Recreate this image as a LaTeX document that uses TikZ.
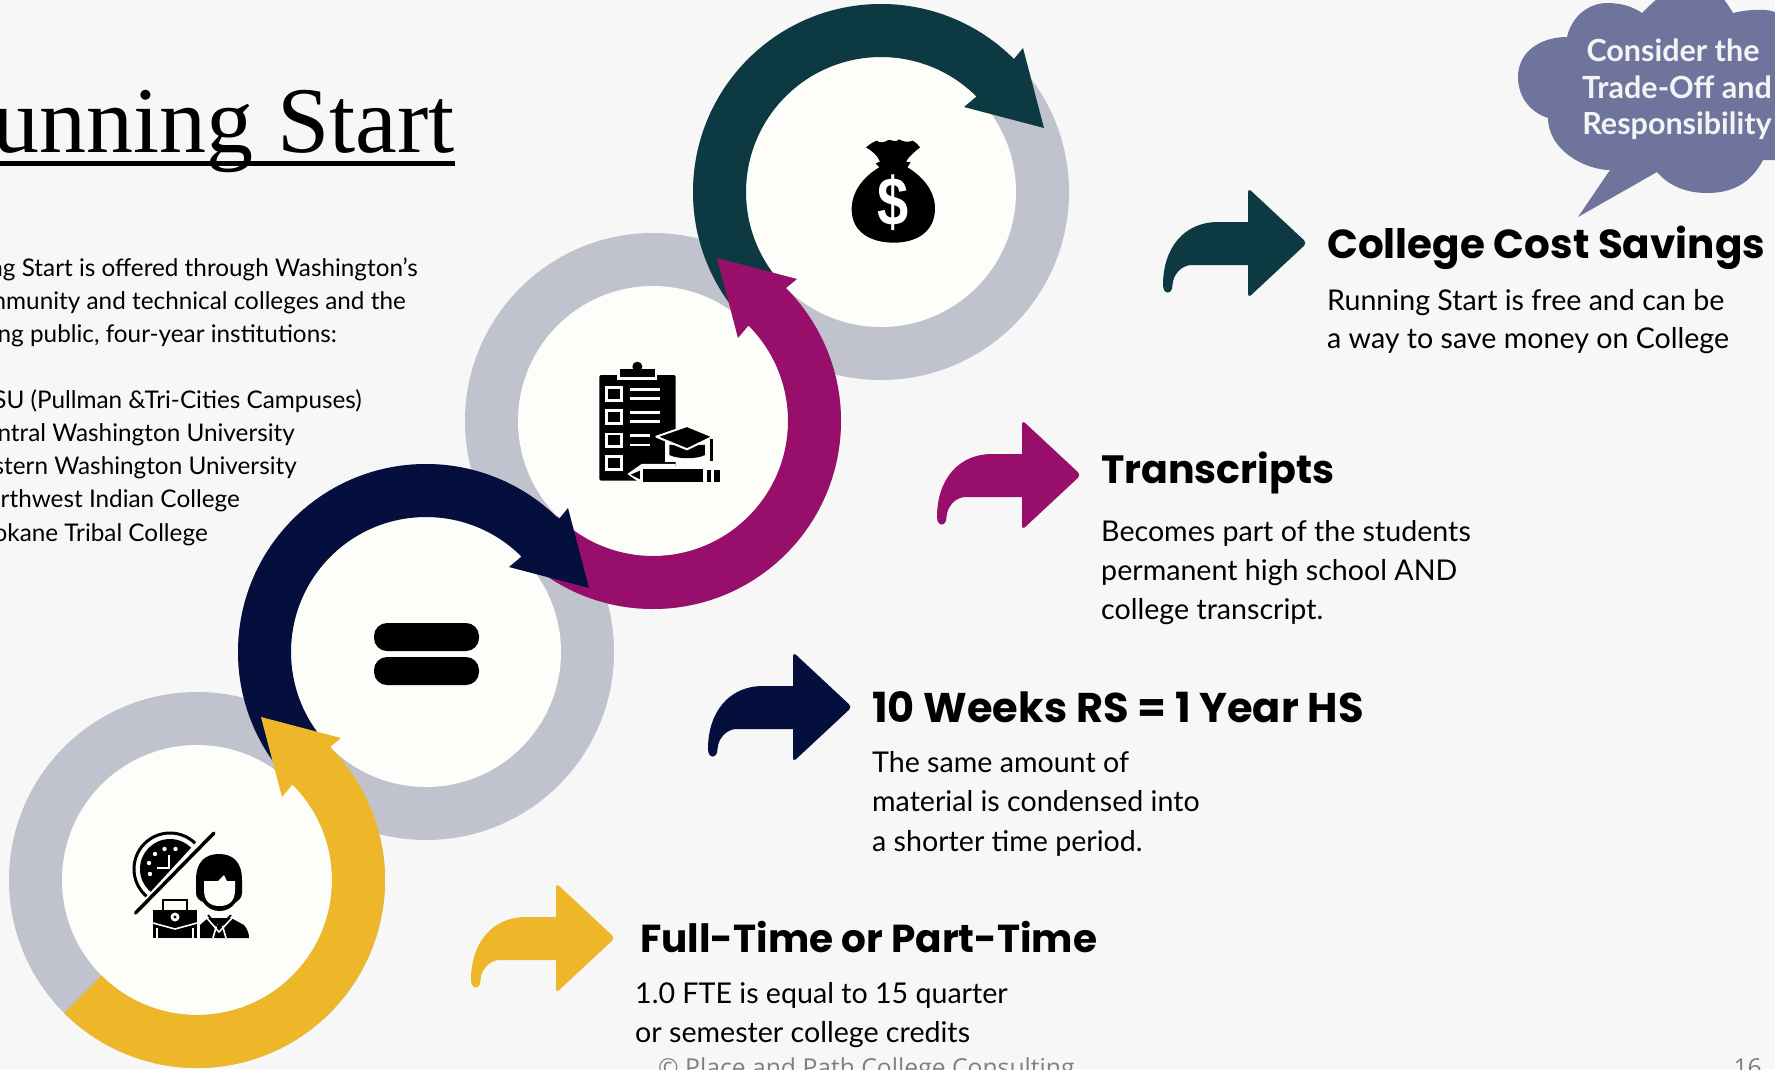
\documentclass[tikz,border=0pt]{standalone}
\usepackage{fontspec}
\newfontfamily\bodyfont{Lato}
\newfontfamily\headfont{Poppins}
\newfontfamily\footfont{Open Sans}
\newfontfamily\serifhead{Liberation Serif}
\newfontfamily\dollarfont{Liberation Sans}
\definecolor{bgc}{HTML}{F7F7F8}
\definecolor{ringc}{HTML}{C0C3CE}
\definecolor{innerc}{HTML}{FDFDF9}
\definecolor{tealc}{HTML}{0D3A42}
\definecolor{magc}{HTML}{970F6B}
\definecolor{navyc}{HTML}{050F3D}
\definecolor{yelc}{HTML}{EEB729}
\definecolor{cloudc}{HTML}{6F749D}
\definecolor{footc}{HTML}{808080}
\tikzset{
  ringbase/.style={circle,fill=ringc,minimum size=376pt,inner sep=0pt,outer sep=0pt},
  ringcore/.style={circle,fill=innerc,minimum size=270pt,inner sep=0pt,outer sep=0pt},
  heading/.style={anchor=base west,inner sep=0pt,font=\headfont\bfseries\fontsize{#1}{42}\selectfont,text=black},
  bodyline/.style={anchor=base west,inner sep=0pt,font=\bodyfont\fontsize{28.6}{30}\selectfont,text=black},
  sideline/.style={anchor=base east,inner sep=0pt,font=\bodyfont\fontsize{24.3}{30}\selectfont,text=black},
  cloudline/.style={anchor=base,inner sep=0pt,font=\bodyfont\bfseries\fontsize{30.5}{32}\selectfont,text=white!92!cloudc},
  pics/bentarrow/.style={code={
    \fill[#1] (-58,-21) [rounded corners=4pt] -- (-58,-55) -- (1,0) -- (-58,55) [sharp corners] -- (-58,22)
      -- (-114,22) .. controls (-125,22) and (-133,32) .. (-133.5,42)
      .. controls (-133.5,52) and (-143,52) .. (-143,42)
      .. controls (-143,5) and (-122,-21) .. (-88,-21) -- cycle;
  }},
}
% yellow/magenta: counter-clockwise sweep; navy/teal: clockwise sweep
\newcommand{\ccwarc}[2]{%
  \fill[#2] ($(#1)+(225:188pt)$) arc[start angle=225,end angle=405,radius=188pt]
    -- ($(#1)+(144,-142)$) -- ($(#1)+(64,-163)$) -- ($(#1)+(85,-83)$) -- ($(#1)+(45:135pt)$)
    arc[start angle=405,end angle=225,radius=135pt] -- cycle;}
\newcommand{\cwarc}[2]{%
  \fill[#2] ($(#1)+(225:188pt)$) arc[start angle=225,end angle=45,radius=188pt]
    -- ($(#1)+(142,-144)$) -- ($(#1)+(163,-64)$) -- ($(#1)+(83,-85)$) -- ($(#1)+(45:135pt)$)
    arc[start angle=45,end angle=225,radius=135pt] -- cycle;}
\usetikzlibrary{calc}
\begin{document}
\begin{tikzpicture}[x=1pt,y=-1pt]
\useasboundingbox (0,0) rectangle (1775,1069);
\fill[bgc] (0,0) rectangle (1775,1069);

% rings
\node[ringbase] (r4) at (881,192) {};
\node[ringbase] (r3) at (653,421) {};
\node[ringbase] (r2) at (426,652) {};
\node[ringbase] (r1) at (197,880) {};
\node[ringcore] (w4) at (881,192) {};
\node[ringcore] (w3) at (653,421) {};
\node[ringcore] (w2) at (426,652) {};
\node[ringcore] (w1) at (197,880) {};
\cwarc{r4}{tealc}
\ccwarc{r3}{magc}
\cwarc{r2}{navyc}
\ccwarc{r1}{yelc}

% equals icon
\fill[black,rounded corners=13pt] (374,623) rectangle (479,651);
\fill[black,rounded corners=13pt] (374,657) rectangle (479,685);

% money bag icon
\begin{scope}[shift={(820,120)},x=0.3333pt,y=-0.3333pt]
\fill[black] (138,82) .. controls (150,72) and (160,66) .. (170,62)
  .. controls (180,70) and (192,68) .. (205,60) .. controls (215,58) and (225,70) .. (238,58)
  .. controls (250,66) and (265,68) .. (278,62) .. controls (288,68) and (295,75) .. (300,82)
  .. controls (285,95) and (270,105) .. (258,125) -- (272,127) -- (262,142)
  .. controls (310,170) and (345,215) .. (345,265)
  .. controls (345,335) and (290,368) .. (222,368)
  .. controls (150,368) and (95,335) .. (95,268)
  .. controls (95,215) and (130,170) .. (178,142) -- (167,130) -- (180,125)
  .. controls (172,105) and (155,92) .. (138,82) -- cycle;
\end{scope}
\node[inner sep=0pt,text=white,font=\dollarfont\bfseries\fontsize{56}{56}\selectfont] (dollar) at (893,203) {\scalebox{1}[1.22]{\$}};

% clipboard icon
\begin{scope}[shift={(540,320)},x=0.3333pt,y=-0.3333pt]
\fill[black,rounded corners=2pt] (178,165) rectangle (407,482);
\fill[innerc] (232,160) rectangle (352,180);
\fill[black] (240,148) rectangle (345,172);
\fill[black] (292,140) circle[radius=5pt];
\foreach \yy in {203,272,342,410}
  \draw[innerc,line width=2.8pt] (199,\yy) rectangle (244,\yy+38);
\foreach \yy in {208,236,278,305}
  \draw[innerc,line width=2.6pt] (270,\yy) -- (360,\yy);
\foreach \yy in {347,375}
  \draw[innerc,line width=2.6pt] (270,\yy) -- (330,\yy);
% cap
\fill[innerc] (375,360) rectangle (505,425);
\fill[innerc] (407,425) rectangle (420,440);
\fill[black] (388,375) -- (495,375) -- (495,405) .. controls (470,418) and (415,418) .. (388,405) -- cycle;
\draw[innerc,fill=black,line join=round,line width=2pt] (349,350) -- (441,318) -- (519,350) -- (441,388) -- cycle;
\draw[black,line width=3pt] (515,358) -- (515,422);
% pencil
\fill[innerc] (262,462) -- (305,432) -- (407,432) -- (407,440) -- (545,440) -- (545,492) -- (305,492) -- cycle;
\fill[black] (310,447) rectangle (490,485);
\fill[black] (500,450) rectangle (512,485);
\fill[black] (522,450) rectangle (541,485);
\fill[black] (272,464) -- (300,452) -- (300,478) -- cycle;
\end{scope}

% time / work icon
\begin{scope}
\clip (120,825) -- (212,825) -- (132,912) -- (120,912) -- cycle;
\draw[black,line width=3pt] (170,869) circle[radius=36pt];
\fill[black] (170,869) circle[radius=30pt];
\end{scope}
\fill[innerc] (140,905) -- (206,838) -- (220,852) -- (154,920) -- cycle;
\draw[innerc,line width=2pt,line join=miter] (169,855) -- (169,868) -- (157,868);
\foreach \px/\py in {149/863,155/854,164.5/849,175.5/849,150/874}
  \fill[innerc] (\px,\py) circle[radius=2.2pt];
\draw[black,line width=3.5pt,line cap=round] (135.5,913) -- (214,833);
% person
\fill[black] (196,880) .. controls (196,862) and (205,854) .. (219,854)
  .. controls (233,854) and (242,862) .. (242,880) -- (242,893) .. controls (242,898) and (238,901) .. (236,902)
  .. controls (232,908) and (226,911) .. (219.5,911)
  .. controls (213,911) and (207,908) .. (203,902) .. controls (200,901) and (196,898) .. (196,893) -- cycle;
\fill[innerc] (204,881) -- (218,881) -- (224,875) -- (227,881) -- (235,881) -- (235,890)
  .. controls (235,902) and (228,906) .. (219.5,906)
  .. controls (211,906) and (204,902) .. (204,890) -- cycle;
\fill[black] (200,938) -- (200,925) -- (208,918) -- (231,918) -- (244,925) .. controls (248,930) and (249,934) .. (249,938) -- cycle;
\draw[innerc,line width=1.6pt] (206,917) -- (219,932) -- (233,917);
\draw[innerc,line width=1.6pt] (213,938) -- (217,924) (226,938) -- (222,924);
\draw[black,line width=1.8pt] (208,915) -- (219,928) -- (231,915);
% briefcase
\draw[black,line width=2pt] (163,910) -- (163,900) -- (187,900) -- (187,910);
\fill[black] (153,910) rectangle (197,938);
\draw[innerc,line width=1.6pt] (153,923) -- (175,929) -- (197,923);
\draw[innerc,line width=1.4pt] (157,928) -- (157,938) (193,928) -- (193,938);
\fill[innerc] (175,917) circle[radius=4.5pt];
\fill[black] (175,917) circle[radius=1.6pt];

% small bent arrows
\path (1306,243) pic (a4) {bentarrow=tealc};
\path (1080,475) pic (a3) {bentarrow=magc};
\path (851,707) pic (a2) {bentarrow=navyc};
\path (614,938) pic (a1) {bentarrow=yelc};

% cloud
\fill[cloudc] (1578,217) -- (1610,170)
  .. controls (1585,170) and (1548,150) .. (1548,118)
  .. controls (1530,112) and (1518,97) .. (1518,77)
  .. controls (1518,52) and (1540,37) .. (1567,37)
  .. controls (1572,15) and (1590,3) .. (1607,3)
  .. controls (1620,3) and (1632,6) .. (1642,13)
  .. controls (1650,5) and (1660,-5) .. (1665,-5)
  -- (1720,-5) .. controls (1725,0) and (1730,8) .. (1733,13)
  .. controls (1745,10) and (1765,8) .. (1775,12)
  -- (1775,160) -- (1763,160)
  .. controls (1750,185) and (1730,193) .. (1707,193)
  .. controls (1685,193) and (1668,185) .. (1657,172) -- cycle;
\node[cloudline] (c1) at (1673,61) {Consider the};
\node[cloudline] (c2) at (1677,98) {Trade-Off and};
\node[cloudline] (c3) at (1677,134) {Responsibility};

% title and left column
\node[anchor=base east,inner sep=0pt,font=\serifhead\fontsize{94}{100}\selectfont] (title) at (455,152) {unning Start};
\fill[black] (0,161) rectangle (455,166);
\node[sideline] (s1) at (418,276) {ng Start is offered through Washington’s};
\node[sideline] (s2) at (406,309) {nmunity and technical colleges and the};
\node[sideline] (s3) at (337,342) {ng public, four-year institutions:};
\node[sideline] (s4) at (362,408) {SU (Pullman \&Tri-Cities Campuses)};
\node[sideline] (s5) at (295,441) {ntral Washington University};
\node[sideline] (s6) at (297,474) {stern Washington University};
\node[sideline] (s7) at (240,507) {rthwest Indian College};
\node[sideline] (s8) at (208,541) {okane Tribal College};

% right column
\node[heading=40.5] (h4) at (1327,258) {College Cost Savings};
\node[bodyline] (b41) at (1327,310) {Running Start is free and can be};
\node[bodyline] (b42) at (1327,348) {a way to save money on College};
\node[heading=39.5] (h3) at (1101,483) {Transcripts};
\node[bodyline] (b31) at (1101,541) {Becomes part of the students};
\node[bodyline] (b32) at (1101,580) {permanent high school AND};
\node[bodyline] (b33) at (1101,619) {college transcript.};
\node[heading=41.5] (h2) at (872,722) {10 Weeks RS = 1 Year HS};
\node[bodyline] (b21) at (872,772) {The same amount of};
\node[bodyline] (b22) at (872,811) {material is condensed into};
\node[bodyline] (b23) at (872,851) {a shorter time period.};
\node[heading=39] (h1) at (640,952) {Full-Time or Part-Time};
\node[bodyline] (b11) at (635,1003) {1.0 FTE is equal to 15 quarter};
\node[bodyline] (b12) at (635,1042) {or semester college credits};

% footer
\node[anchor=base west,inner sep=0pt,text=footc,font=\footfont\fontsize{24.7}{26}\selectfont] (foot) at (658,1076) {© Place and Path College Consulting};
\node[anchor=base east,inner sep=0pt,text=footc,font=\footfont\fontsize{24.7}{26}\selectfont] (page) at (1762,1076) {16};
\end{tikzpicture}
\end{document}
